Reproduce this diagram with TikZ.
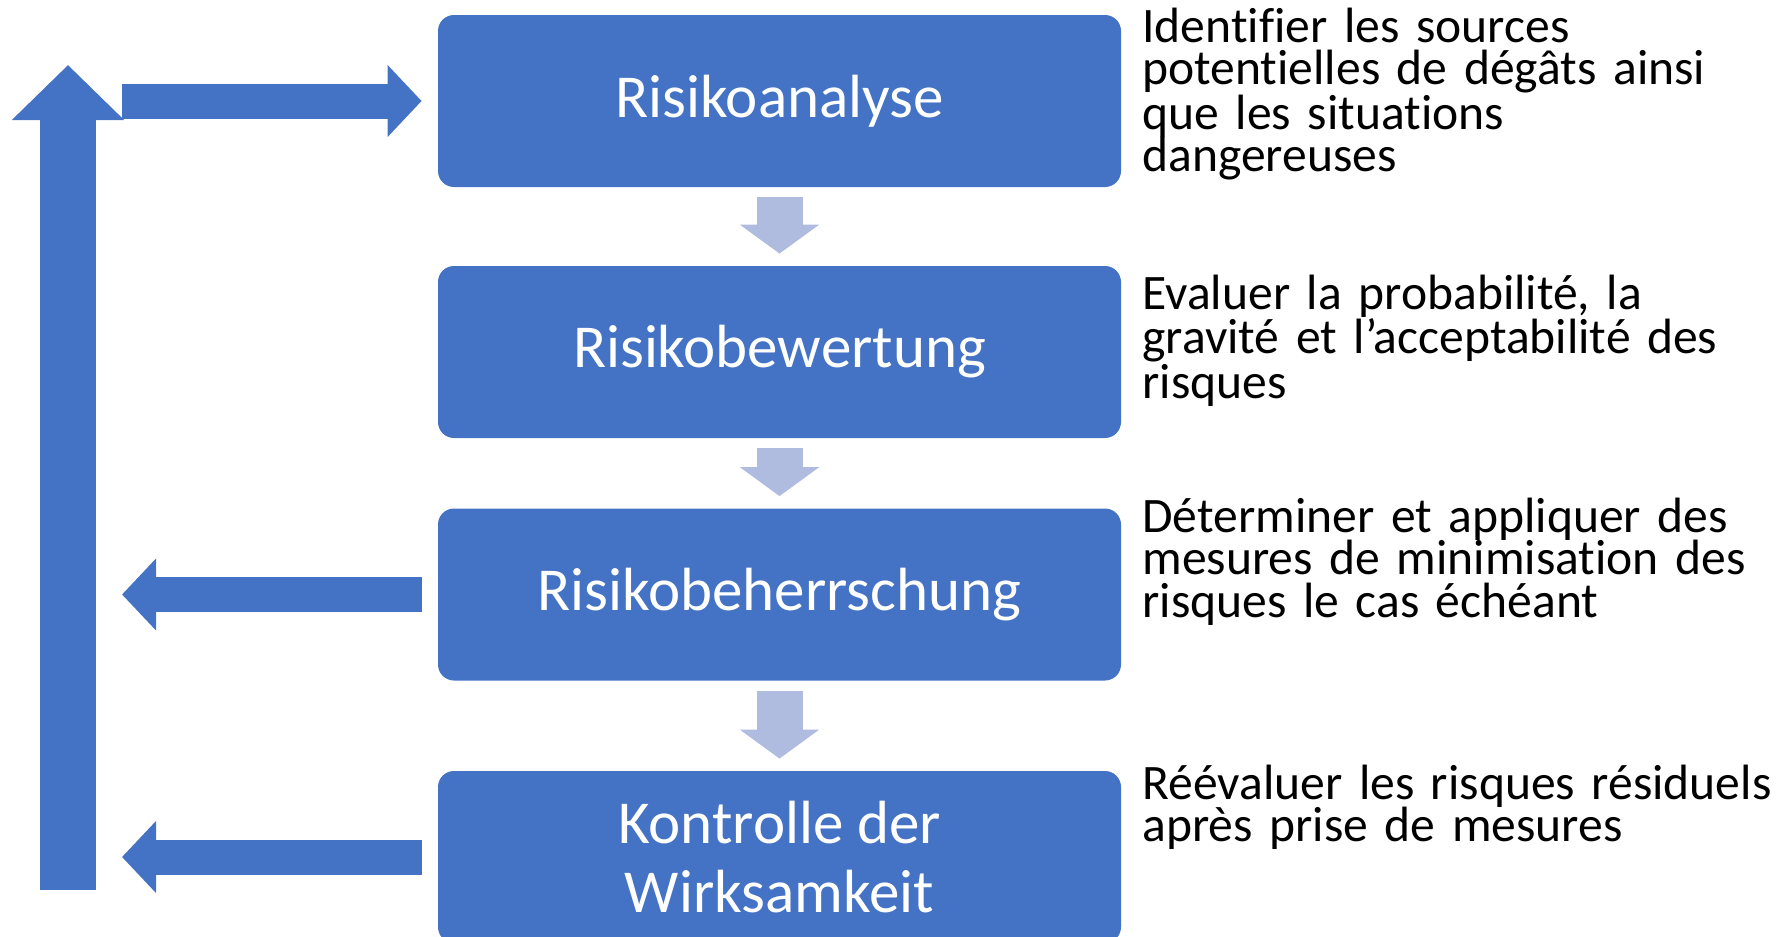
\documentclass[tikz,border=0pt]{standalone}
\usepackage{fontspec}
\setmainfont{Carlito}[Ligatures=NoCommon]
\usetikzlibrary{arrows.meta,positioning}

\definecolor{boxblue}{RGB}{68,114,196}
\definecolor{stepblue}{RGB}{175,188,223}
\setlength{\lineskiplimit}{-100pt}

\tikzset{
  stage/.style={rectangle, rounded corners=8pt, fill=boxblue, text=white,
    minimum width=341.5pt, minimum height=86pt, inner sep=0pt, align=center,
    font=\fontsize{30.5}{34.5}\selectfont},
  note/.style={anchor=base west, inner sep=0pt, text width=400pt, align=left,
    font=\fontsize{24.8}{21.25}\selectfont},
  nextstep/.style={draw=stepblue, line width=23pt, -{Triangle[width=39pt,length=14.5pt]}},
  feedback/.style={draw=boxblue, line width=17.5pt, -{Triangle[width=35pt,length=17pt]}}
}

\begin{document}
\begin{tikzpicture}[x=0.5pt,y=-0.5pt]
  \useasboundingbox (0,0) rectangle (1785,937);
  \clip (0,0) rectangle (1785,937);

  % Prozessschritte
  \node[stage] (analyse) at (779.5,101) {Risikoanalyse};
  \node[stage] (bewertung) at (779.5,352) {Risikobewertung};
  \node[stage] (beherrschung) at (779.5,594.5) {Risikobeherrschung};
  \node[stage] (kontrolle) at (779.5,857) {Kontrolle der\\Wirksamkeit};

  % Pfeile zwischen den Schritten
  \foreach \a/\b in {analyse/bewertung, bewertung/beherrschung, beherrschung/kontrolle}
    \draw[nextstep] ([yshift=-5pt]\a.south) -- ([yshift=6pt]\b.north);

  % Rueckfuehrung
  \coordinate (loopFoot) at (68,890);
  \coordinate (loopHead) at (68,65);
  \coordinate (loopTurn) at (122,101);
  \draw[feedback, line width=28pt, -{Triangle[width=54.5pt,length=27.5pt]}] (loopFoot) -- (loopHead);
  \draw[feedback] (loopTurn) -- ([xshift=-8pt]analyse.west);
  \draw[feedback] ([xshift=-8pt]beherrschung.west) -- (beherrschung.west -| loopTurn);
  \draw[feedback] ([xshift=-8pt]kontrolle.west) -- (kontrolle.west -| loopTurn);

  % Erlaeuterungen
  \node[note] (analyseNote) at (1142,42) {Identifier les sources\\potentielles de dégâts ainsi\\que les situations\\dangereuses};
  \node[note] (bewertungNote) at (1142,309) {Evaluer la probabilité, la\\gravité et l’acceptabilité des\\risques};
  \node[note] (beherrschungNote) at (1142,532) {Déterminer et appliquer des\\mesures de minimisation des\\risques le cas échéant};
  \node[note] (kontrolleNote) at (1142,799) {Réévaluer les risques résiduels\\après prise de mesures};
\end{tikzpicture}
\end{document}
